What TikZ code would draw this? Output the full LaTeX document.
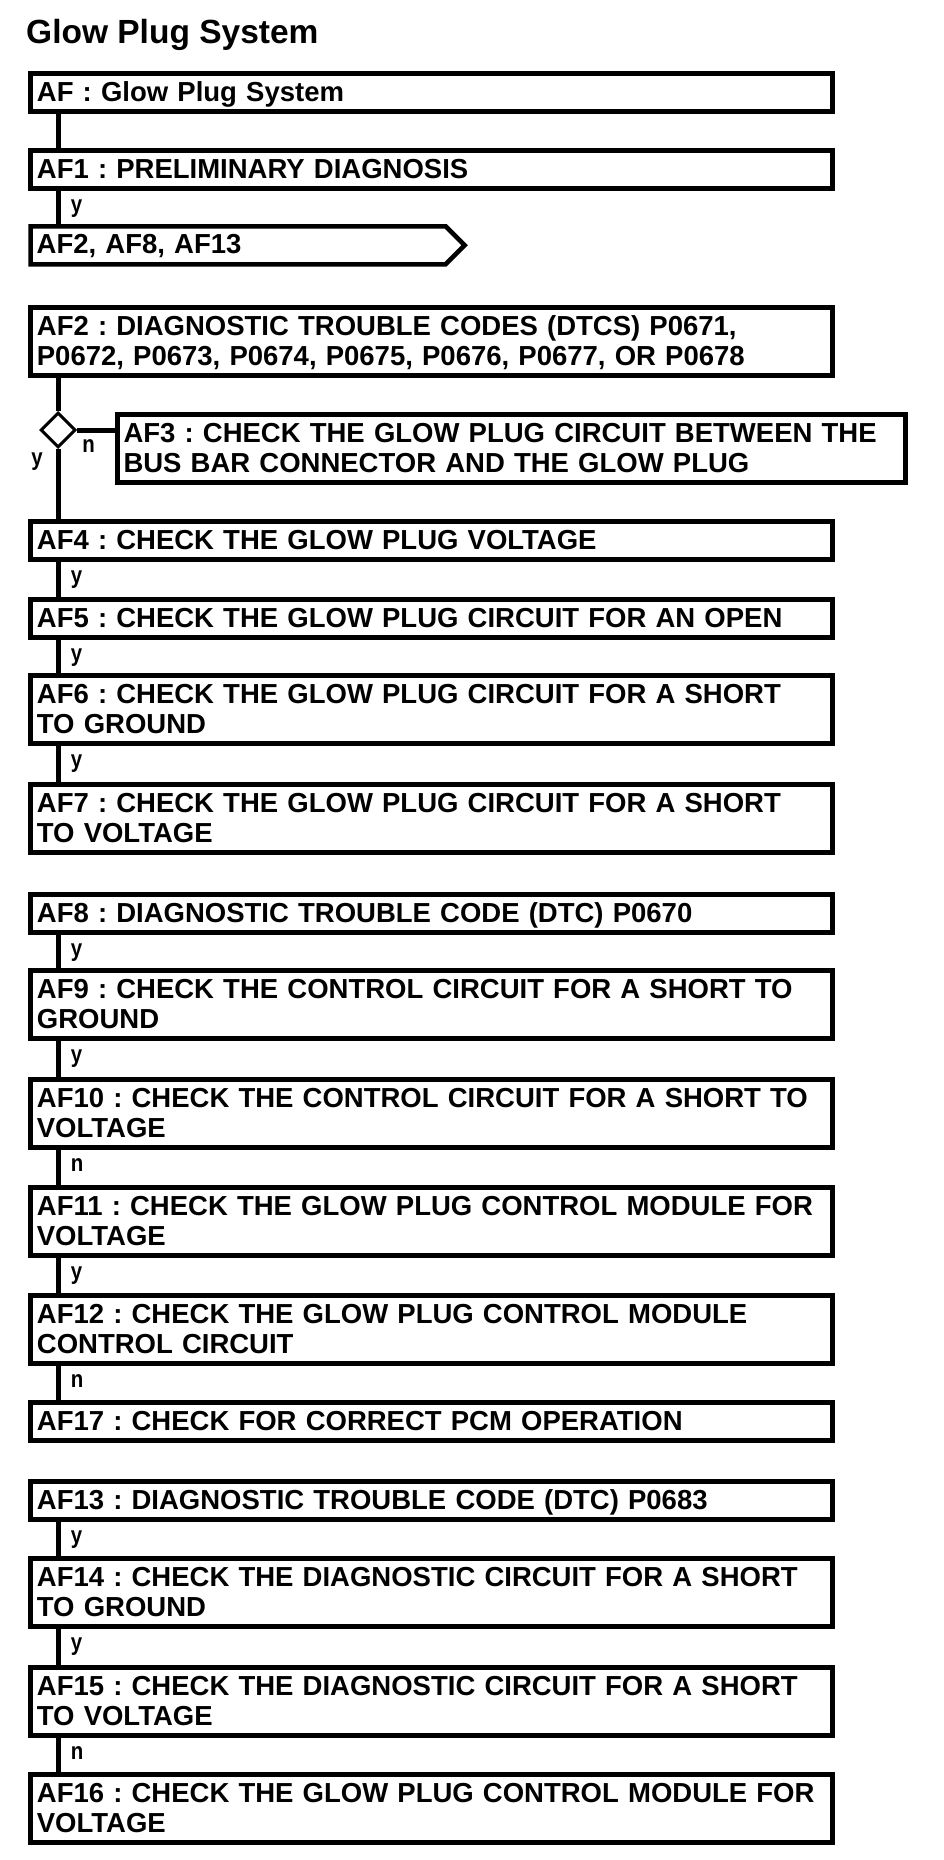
\documentclass[tikz,border=0pt]{standalone}
\usepackage{fontspec}
\setmainfont{Liberation Sans}
\usepackage{graphicx}
\usetikzlibrary{shapes.geometric,calc}
\frenchspacing
\newcommand{\boxone}[1]{\mbox{\rule{0pt}{23pt}#1\rule[-6pt]{0pt}{6pt}}}
\newcommand{\boxtwo}[2]{\mbox{\rule{0pt}{23pt}#1}\\\mbox{#2\rule[-6pt]{0pt}{6pt}}}
\newcommand{\lbltxt}[1]{\scalebox{0.85}[1]{#1}}
\begin{document}
\frenchspacing
\begin{tikzpicture}[x=1pt,y=1pt,
  boxfont/.style={font=\fontsize{27.5pt}{30pt}\selectfont\bfseries\frenchspacing},
  box/.style={draw, line width=5pt, rectangle, anchor=north west, inner xsep=6pt, inner ysep=4.5pt, text width=789.6pt, align=left, boxfont},
  conn/.style={line width=5pt},
  lbl/.style={anchor=base west, inner sep=0pt, font=\fontsize{24pt}{26pt}\selectfont\bfseries}]
\useasboundingbox (0,0) rectangle (944,-1860);

\node[anchor=base west, inner sep=0pt, font=\fontsize{33.5pt}{36pt}\selectfont\bfseries] (title) at (26,-44) {Glow Plug System};

\node[box] (af) at (28.4,-71) {\boxone{AF : Glow Plug System}};
\node[box] (af1) at (28.4,-148) {\boxone{AF1 : PRELIMINARY DIAGNOSIS}};
\node[anchor=north west, inner xsep=6pt, inner ysep=4.5pt, text width=403pt, align=left, boxfont, outer sep=0pt] (pent) at (30.65,-226.25) {\boxone{AF2, AF8, AF13}};
\draw[line width=4.5pt] (pent.north west) -- (pent.north east) -- ($(pent.east)+(19,0)$) -- (pent.south east) -- (pent.south west) -- cycle;

\node[box] (af2) at (28.4,-305) {\boxtwo{AF2 : DIAGNOSTIC TROUBLE CODES (DTCS) P0671,}{P0672, P0673, P0674, P0675, P0676, P0677, OR P0678}};
\node[diamond, draw, line width=3pt, minimum width=35pt, minimum height=35pt, inner sep=0pt, aspect=1] (dia) at (58.2,-430) {};
\node[box, text width=776pt] (af3) at (115,-412) {\boxtwo{AF3 : CHECK THE GLOW PLUG CIRCUIT BETWEEN THE}{BUS BAR CONNECTOR AND THE GLOW PLUG}};
\node[box] (af4) at (28.4,-519) {\boxone{AF4 : CHECK THE GLOW PLUG VOLTAGE}};
\node[box] (af5) at (28.4,-597) {\boxone{AF5 : CHECK THE GLOW PLUG CIRCUIT FOR AN OPEN}};
\node[box] (af6) at (28.4,-673) {\boxtwo{AF6 : CHECK THE GLOW PLUG CIRCUIT FOR A SHORT}{TO GROUND}};
\node[box] (af7) at (28.4,-782) {\boxtwo{AF7 : CHECK THE GLOW PLUG CIRCUIT FOR A SHORT}{TO VOLTAGE}};

\node[box] (af8) at (28.4,-892) {\boxone{AF8 : DIAGNOSTIC TROUBLE CODE (DTC) P0670}};
\node[box] (af9) at (28.4,-968) {\boxtwo{AF9 : CHECK THE CONTROL CIRCUIT FOR A SHORT TO}{GROUND}};
\node[box] (af10) at (28.4,-1077) {\boxtwo{AF10 : CHECK THE CONTROL CIRCUIT FOR A SHORT TO}{VOLTAGE}};
\node[box] (af11) at (28.4,-1185) {\boxtwo{AF11 : CHECK THE GLOW PLUG CONTROL MODULE FOR}{VOLTAGE}};
\node[box] (af12) at (28.4,-1293) {\boxtwo{AF12 : CHECK THE GLOW PLUG CONTROL MODULE}{CONTROL CIRCUIT}};
\node[box] (af17) at (28.4,-1400) {\boxone{AF17 : CHECK FOR CORRECT PCM OPERATION}};

\node[box] (af13) at (28.4,-1479) {\boxone{AF13 : DIAGNOSTIC TROUBLE CODE (DTC) P0683}};
\node[box] (af14) at (28.4,-1556) {\boxtwo{AF14 : CHECK THE DIAGNOSTIC CIRCUIT FOR A SHORT}{TO GROUND}};
\node[box] (af15) at (28.4,-1665) {\boxtwo{AF15 : CHECK THE DIAGNOSTIC CIRCUIT FOR A SHORT}{TO VOLTAGE}};
\node[box] (af16) at (28.4,-1772) {\boxtwo{AF16 : CHECK THE GLOW PLUG CONTROL MODULE FOR}{VOLTAGE}};

\coordinate (col) at (58.2,0);
\draw[conn] (col |- af.south) -- (col |- af1.north);
\draw[conn] (col |- af1.south) -- (col |- pent.north);
\node[lbl] (lab-af1) at ($(col |- af1.south)+(12.5,-21)$) {\lbltxt{y}};

\draw[conn] (col |- af2.south) -- (dia.north);
\draw[conn] (dia.south) -- (col |- af4.north);
\draw[conn] (dia.east) -- (af3.west |- dia.east);
\node[lbl] (lab-dn) at ($(dia.east)+(5,-22)$) {\lbltxt{n}};
\node[lbl] (lab-dy) at ($(dia.west)+(-8,-35.5)$) {\lbltxt{y}};

\foreach \a/\b/\t in {af4/af5/y, af5/af6/y, af6/af7/y, af8/af9/y, af9/af10/y, af10/af11/n, af11/af12/y, af12/af17/n, af13/af14/y, af14/af15/y, af15/af16/n}{
  \draw[conn] (col |- \a.south) -- (col |- \b.north);
  \node[lbl] (lab-\a) at ($(col |- \a.south)+(12.5,-21)$) {\lbltxt{\t}};
}
\end{tikzpicture}
\end{document}
